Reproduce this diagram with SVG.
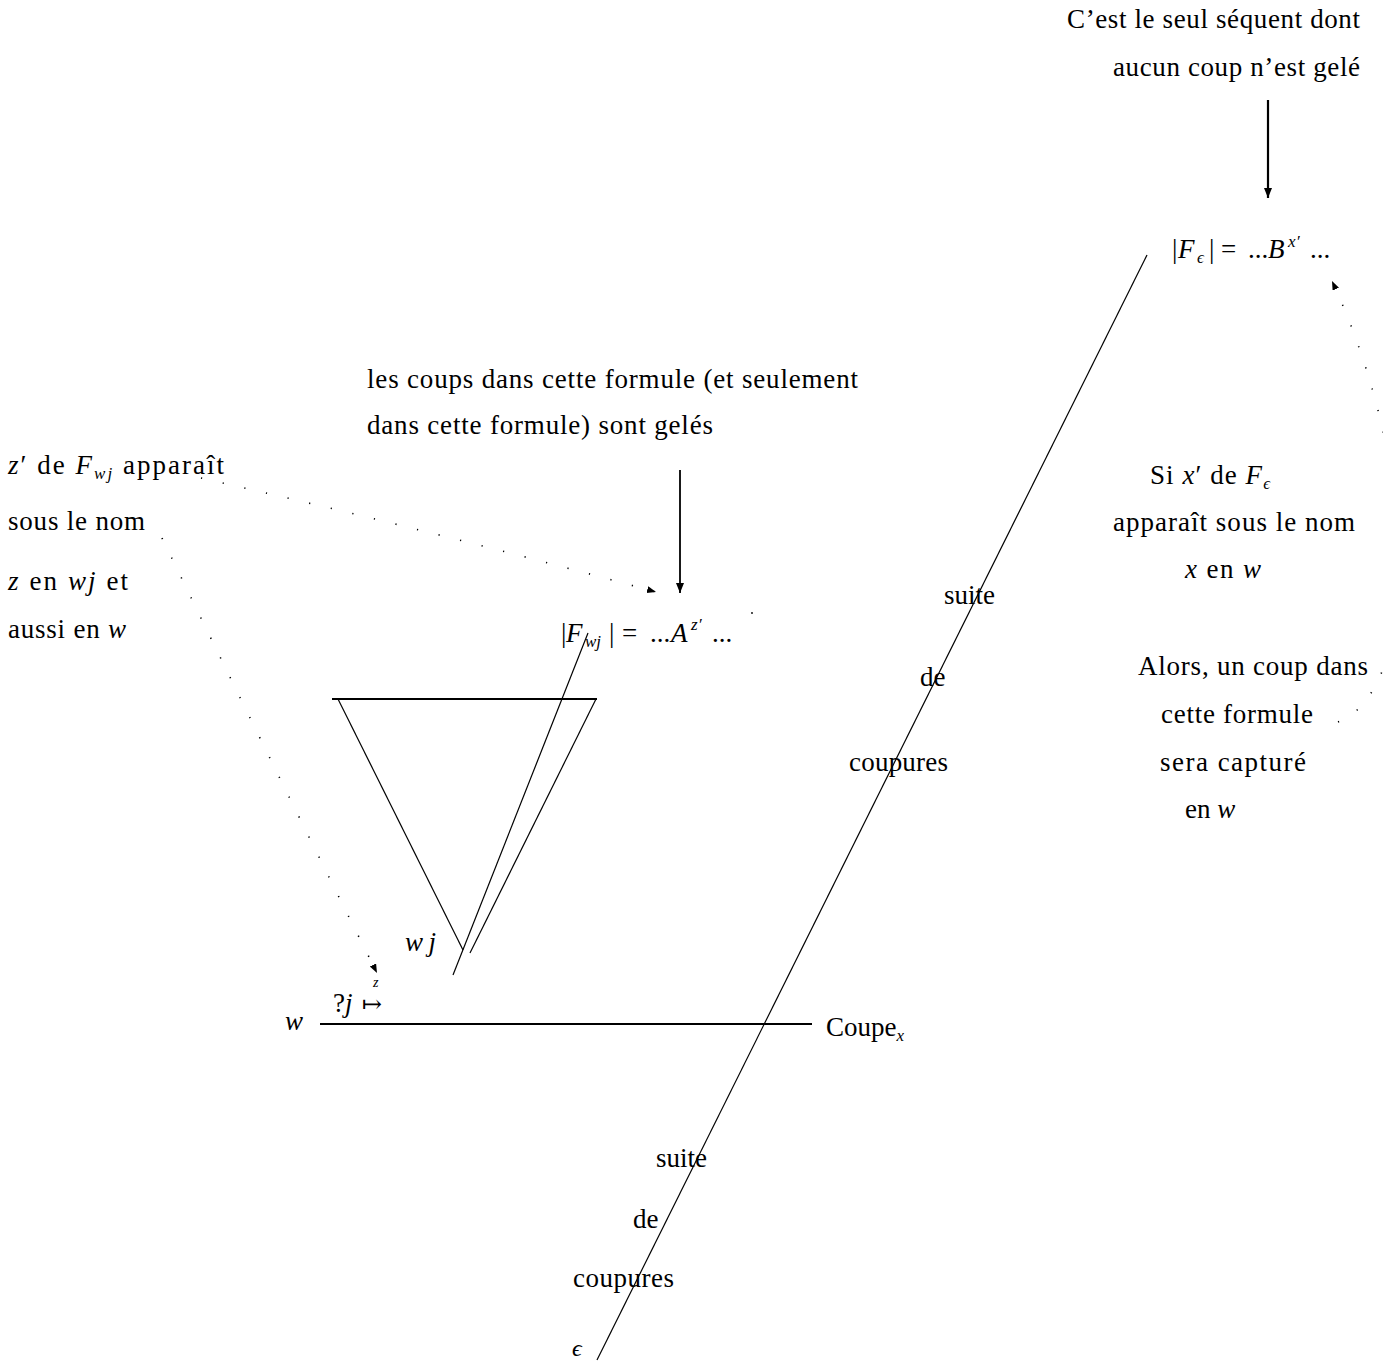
<svg xmlns="http://www.w3.org/2000/svg" width="1383" height="1365" viewBox="0 0 1383 1365">
<style>
text{font-family:"Liberation Serif","DejaVu Serif",serif;font-size:27px;fill:#000}
.i{font-style:italic}
.s{font-size:17px}
.ln{stroke:#000;fill:none;stroke-width:1.2}
.thick{stroke:#000;fill:none;stroke-width:2.2}
.dot{stroke:#000;fill:none;stroke-width:1.6;stroke-dasharray:1.2 21;stroke-linecap:butt}
</style>
<defs>
<marker id="ah" markerUnits="userSpaceOnUse" markerWidth="12" markerHeight="10" refX="10" refY="4" orient="auto">
<path d="M0,0 L10,4 L0,8 Z" fill="#000"/>
</marker>
<marker id="ahs" markerUnits="userSpaceOnUse" markerWidth="12" markerHeight="10" refX="9" refY="3.5" orient="auto">
<path d="M0,0 L9,3.5 L0,7 Z" fill="#000"/>
</marker>
</defs>
<rect width="1383" height="1365" fill="#fff"/>

<g id="connectors">
<line class="thick" x1="1268" y1="100" x2="1268" y2="198" marker-end="url(#ah)"/>
<line class="thick" x1="680" y1="470" x2="680" y2="593" marker-end="url(#ah)" style="stroke-width:1.8"/>
<path class="dot" d="M201,478 Q430,530 656,592" marker-end="url(#ahs)"/>
<path class="dot" d="M162,538 Q260,740 377,973" marker-end="url(#ahs)"/>
<path class="dot" d="M1338,722 C1420,690 1420,470 1332,281" marker-end="url(#ahs)"/>
<circle cx="752" cy="613" r="0.9" fill="#000"/>
<line class="ln" x1="597" y1="1360" x2="1147" y2="255"/>
<line class="ln" x1="453" y1="975" x2="588" y2="633"/>
<line class="thick" x1="320" y1="1024" x2="812" y2="1024"/>
</g>

<g id="triangle">
<line class="thick" x1="332" y1="699" x2="597" y2="699"/>
<line class="ln" x1="338" y1="699" x2="463" y2="950"/>
<line class="ln" x1="596" y1="699" x2="470" y2="953"/>
</g>

<g id="note-top">
<text x="1067" y="28" textLength="293">C’est le seul séquent dont</text>
<text x="1113" y="76" textLength="247">aucun coup n’est gelé</text>
</g>

<g id="f-eps">
<text x="1172" y="258">|</text>
<text x="1178" y="258" class="i">F</text>
<text x="1197" y="263" class="s i">ϵ</text>
<text x="1209" y="258">|</text>
<text x="1221" y="258">=</text>
<text x="1248" y="258">...</text>
<text x="1268" y="258" class="i">B</text>
<text x="1288" y="247" class="s i">x</text>
<text x="1297" y="247" class="s">′</text>
<text x="1310" y="258">...</text>
</g>

<g id="note-gel">
<text x="367" y="388" textLength="491">les coups dans cette formule (et seulement</text>
<text x="367" y="434" textLength="346">dans cette formule) sont gelés</text>
</g>

<g id="note-z">
<text x="8" y="474" textLength="216"><tspan class="i">z</tspan>′ de <tspan class="i">F</tspan><tspan class="s i" dy="5">wj</tspan><tspan dy="-5"> apparaît</tspan></text>
<text x="8" y="530" textLength="137">sous le nom</text>
<text x="8" y="590" textLength="120"><tspan class="i">z</tspan> en <tspan class="i">wj</tspan> et</text>
<text x="8" y="638" textLength="118">aussi en <tspan class="i">w</tspan></text>
</g>

<g id="f-wj">
<text x="561" y="642">|</text>
<text x="566" y="642" class="i">F</text>
<text x="585" y="647" class="s i">wj</text>
<text x="609" y="642">|</text>
<text x="622" y="642">=</text>
<text x="650" y="642">...</text>
<text x="671" y="642" class="i">A</text>
<text x="691" y="630" class="s i">z</text>
<text x="699" y="630" class="s">′</text>
<text x="712" y="642">...</text>
</g>

<g id="label-suite1">
<text x="944" y="604">suite</text>
<text x="920" y="686">de</text>
<text x="849" y="771" textLength="99">coupures</text>
</g>

<g id="note-x">
<text x="1150" y="484" textLength="120">Si <tspan class="i">x</tspan>′ de <tspan class="i">F</tspan><tspan class="s i" dy="5">ϵ</tspan></text>
<text x="1113" y="531" textLength="242">apparaît sous le nom</text>
<text x="1185" y="578" textLength="76"><tspan class="i">x</tspan> en <tspan class="i">w</tspan></text>
<text x="1138" y="675" textLength="230">Alors, un coup dans</text>
<text x="1161" y="723" textLength="152">cette formule</text>
<text x="1160" y="771" textLength="146">sera capturé</text>
<text x="1185" y="818">en <tspan class="i">w</tspan></text>
</g>

<g id="node-wj">
<text x="405" y="951" class="i" textLength="31">wj</text>
</g>

<g id="node-w">
<text x="285" y="1030" class="i">w</text>
<text x="333" y="1012">?<tspan class="i">j</tspan></text>
<text x="362" y="1012" style="font-size:24px">↦</text>
<text x="373" y="987" class="s i" style="font-size:14px">z</text>
<text x="826" y="1036">Coupe<tspan class="s i" dy="5">x</tspan></text>
</g>

<g id="label-suite2">
<text x="656" y="1167">suite</text>
<text x="633" y="1228">de</text>
<text x="573" y="1287" textLength="101">coupures</text>
<text x="572" y="1356" class="i" style="font-size:24px">ϵ</text>
</g>
</svg>
